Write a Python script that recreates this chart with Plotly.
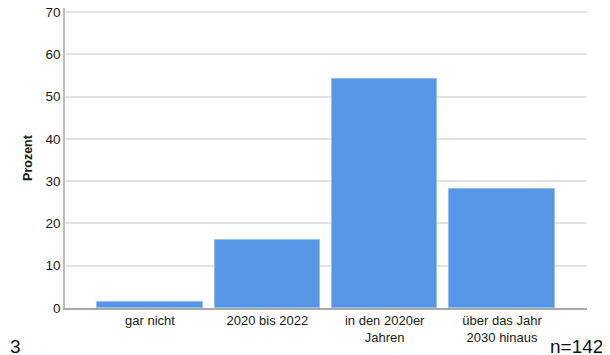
import plotly.graph_objects as go

CATEGORIES = ["gar nicht", "2020 bis 2022", "in den 2020er<br>Jahren",
              "über das Jahr<br>2030 hinaus"]
PERCENT = [1.4, 16.2, 54.2, 28.2]
Y_TICKS = [0, 10, 20, 30, 40, 50, 60, 70]
LEFT_NOTE = "3"
N_NOTE = "n=142"

BAR_COLOR = "rgb(85,150,230)"
FONT = "Liberation Sans, Arial, sans-serif"

# the page puts the plot 8px in from the top-left corner
W, H = 602, 347
L, R, T, B = 57, 23, 0, 47
PW, PH = W - L - R, H - T - B

fig = go.Figure(go.Bar(
    x=list(range(len(CATEGORIES))),
    y=PERCENT,
    width=0.9,
    marker=dict(color=BAR_COLOR,
                line=dict(color="rgb(150,190,240)", width=1)),
    hoverinfo="skip",
))

fig.update_layout(
    width=W, height=H,
    margin=dict(l=L, r=R, t=T, b=B),
    plot_bgcolor="white", paper_bgcolor="white",
    showlegend=False,
    font=dict(family=FONT, size=13, color="#1a1a1a"),
    bargap=0,
)

fig.update_xaxes(
    range=[-0.724, 3.724],
    tickvals=list(range(len(CATEGORIES))),
    ticktext=CATEGORIES,
    tickfont=dict(size=13),
    showgrid=False,
    showline=True, linecolor="#a8a8a8", linewidth=1.5,
    ticks="", zeroline=False,
)

fig.update_yaxes(
    range=[0, 70.95],
    tickvals=Y_TICKS,
    tickfont=dict(size=13.5),
    ticklabeloverflow="allow",
    showgrid=True, gridcolor="#e2e2e2", gridwidth=1.5,
    showline=True, linecolor="#bdbdbd", linewidth=1.5,
    zeroline=False, ticks="",
    ticklabelstandoff=0,
    automargin=False,
    title=dict(text="<b>Prozent</b>", font=dict(size=12.5), standoff=10),
)

fig.add_annotation(text=LEFT_NOTE, xref="paper", yref="paper",
                   x=-L / PW, y=(PH - 338) / PH,
                   xanchor="left", yanchor="middle", showarrow=False,
                   font=dict(size=19, color="#111111"))
fig.add_annotation(text=N_NOTE, xref="paper", yref="paper",
                   x=(597 - L) / PW, y=(PH - 338) / PH,
                   xanchor="right", yanchor="middle", showarrow=False,
                   font=dict(size=19, color="#111111"))

fig.write_html("out.html")
